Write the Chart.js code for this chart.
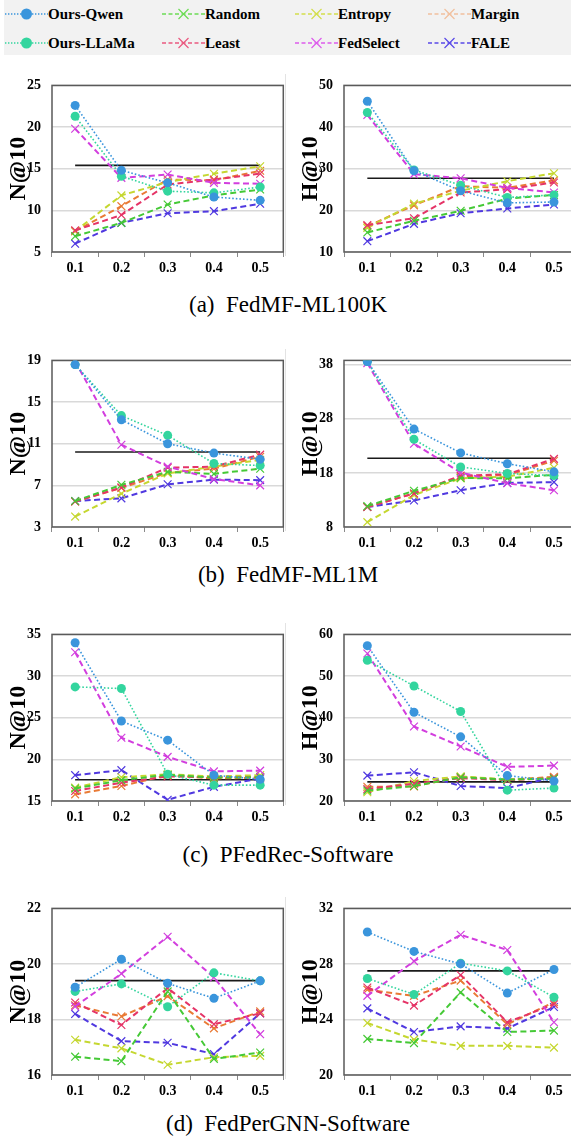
<!DOCTYPE html>
<html>
<head>
<meta charset="utf-8">
<script src="https://cdn.jsdelivr.net/npm/chart.js@4.4.1/dist/chart.umd.min.js"></script>
<style>
    html, body { margin: 0; padding: 0; background: #fff; }
    body { position: relative; width: 571px; height: 1144px; overflow: hidden; font-family: 'Liberation Serif', 'Times New Roman', serif; }
    #legend { position: absolute; left: 4px; top: 0; width: 567px; height: 55px; background: #f2f2f2; }
    .item { position: absolute; display: flex; align-items: center; height: 16px; font-weight: bold; font-size: 15px; color: #000; white-space: nowrap; }
    .item canvas { display: block; }
    .caption { position: absolute; left: 0; width: 576px; text-align: center; font-size: 23px; line-height: 24px; color: #000; white-space: pre; }
    .sep { position: absolute; left: 285px; width: 1px; background: #e3e3e3; }
</style>
</head>
<body>
<div id="legend"></div>
<script>
(function() {
    'use strict';

    // Data, one row per panel:
    // (a) N, (a) H, (b) N, (b) H, (c) N, (c) H, (d) N, (d) H
    const categories = ['0.1', '0.2', '0.3', '0.4', '0.5'];

    const oursQwen = [
        [22.6, 14.8, 13.3, 11.6, 11.2],
        [46.2, 29.5, 24.7, 21.8, 22.0],
        [18.6, 13.3, 11.0, 10.1, 9.5],
        [38.6, 26.1, 21.7, 19.7, 18.2],
        [34.0, 24.6, 22.3, 18.1, 17.6],
        [57.3, 41.3, 35.4, 26.1, 24.8],
        [19.16, 20.17, 19.3, 18.76, 19.39],
        [30.3, 28.9, 28.0, 25.9, 27.6]
    ];
    const oursLlama = [
        [21.3, 14.1, 12.3, 12.1, 12.8],
        [43.5, 29.7, 26.0, 23.1, 23.7],
        [18.6, 13.7, 11.8, 9.1, 8.9],
        [38.6, 24.2, 19.1, 17.9, 17.5],
        [28.7, 28.5, 18.2, 16.9, 16.9],
        [53.8, 47.6, 41.5, 22.6, 23.1],
        [19.01, 19.28, 18.46, 19.68, 19.39],
        [26.95, 25.8, 28.05, 27.5, 25.6]
    ];
    const random = [
        [6.9, 8.5, 10.7, 11.8, 12.5],
        [14.7, 17.5, 19.9, 22.8, 23.7],
        [5.5, 7.05, 8.3, 8.1, 8.6],
        [11.85, 14.7, 17.05, 17.0, 17.65],
        [16.5, 17.5, 18.15, 17.8, 17.85],
        [22.5, 23.6, 25.7, 25.15, 25.4],
        [16.66, 16.5, 19.01, 16.58, 16.81],
        [22.6, 22.3, 25.95, 23.1, 23.2]
    ];
    const least = [
        [7.6, 9.45, 13.1, 13.7, 14.4],
        [16.45, 18.1, 24.3, 25.05, 26.7],
        [5.45, 6.8, 8.7, 8.8, 9.95],
        [11.7, 14.2, 17.5, 17.75, 20.6],
        [16.2, 17.2, 17.95, 17.85, 17.85],
        [22.85, 24.15, 25.5, 25.0, 25.5],
        [18.61, 17.8, 19.13, 17.83, 18.22],
        [26.3, 25.0, 27.2, 23.8, 25.1]
    ];
    const entropy = [
        [7.5, 11.8, 13.4, 14.4, 15.3],
        [15.8, 21.6, 24.7, 27.0, 28.9],
        [4.0, 6.2, 8.15, 8.8, 9.45],
        [8.9, 13.9, 17.0, 17.3, 18.95],
        [16.6, 17.85, 18.2, 17.95, 18.1],
        [22.1, 24.8, 25.9, 25.15, 25.5],
        [17.27, 16.96, 16.37, 16.64, 16.69],
        [23.75, 22.55, 22.1, 22.1, 21.97]
    ];
    const fedSelect = [
        [19.8, 13.9, 14.3, 13.3, 13.2],
        [42.9, 28.7, 27.7, 25.4, 24.3],
        [18.9, 10.9, 8.8, 7.6, 7.0],
        [38.3, 23.4, 18.05, 16.1, 14.8],
        [32.85, 22.6, 20.3, 18.55, 18.65],
        [55.4, 37.9, 33.1, 28.2, 28.5],
        [18.47, 19.65, 20.98, 19.51, 17.47],
        [25.7, 28.2, 30.1, 29.0, 23.8]
    ];
    const margin = [
        [7.5, 10.5, 13.7, 13.6, 14.75],
        [16.2, 21.2, 25.8, 25.4, 27.2],
        [5.45, 6.75, 8.2, 8.6, 9.75],
        [11.7, 14.2, 17.3, 17.6, 20.25],
        [15.8, 16.8, 18.1, 17.7, 17.8],
        [23.4, 23.5, 25.8, 25.1, 25.8],
        [18.51, 18.11, 18.84, 17.68, 18.29],
        [26.15, 25.7, 26.8, 23.65, 25.25]
    ];
    const fale = [
        [6.0, 8.5, 9.65, 9.9, 10.8],
        [12.6, 16.75, 19.3, 20.45, 21.4],
        [5.5, 5.75, 7.1, 7.55, 7.5],
        [11.7, 12.9, 14.8, 16.15, 16.3],
        [18.1, 18.7, 15.15, 16.7, 17.7],
        [26.1, 26.9, 23.6, 23.1, 25.7],
        [18.2, 17.22, 17.16, 16.75, 18.22],
        [24.8, 23.1, 23.5, 23.35, 24.9]
    ];
    // black reference line in each panel
    const refLine = [15.4, 27.7, 10.2, 20.7, 17.55, 24.6, 19.4, 27.5];

    const yTitles = ['N@10', 'H@10', 'N@10', 'H@10', 'N@10', 'H@10', 'N@10', 'H@10'];
    const yTicks = [
        [5, 10, 15, 20, 25],
        [10, 20, 30, 40, 50],
        [3, 7, 11, 15, 19],
        [8, 18, 28, 38],
        [15, 20, 25, 30, 35],
        [20, 30, 40, 50, 60],
        [16, 18, 20, 22],
        [20, 24, 28, 32]
    ];
    const yMax = [25, 50, 19, 38.8, 35, 60, 22, 32];
    const captions = ['(a)  FedMF-ML100K', '(b)  FedMF-ML1M', '(c)  PFedRec-Software', '(d)  FedPerGNN-Software'];

    // Styling
    const FONT = "'Liberation Serif', 'Times New Roman', serif";
    const SERIES = [
        { label: 'Ours-Qwen',  data: oursQwen,  color: '#3a95dc', legend: '#3a95dc', dotted: true },
        { label: 'Ours-LLaMa', data: oursLlama, color: '#33d59e', legend: '#33d59e', dotted: true },
        { label: 'FedSelect',  data: fedSelect, color: '#d23ede', legend: '#dd5cec' },
        { label: 'Random',     data: random,    color: '#45c936', legend: '#6cdc55' },
        { label: 'Least',      data: least,     color: '#e53467', legend: '#ea5a80' },
        { label: 'Entropy',    data: entropy,   color: '#c5d730', legend: '#d3de4c' },
        { label: 'Margin',     data: margin,    color: '#e97a35', legend: '#f1c09e' },
        { label: 'FALE',       data: fale,      color: '#5039e0', legend: '#5a4ae8' }
    ];
    const LEGEND_ORDER = [
        ['Ours-Qwen', 'Random', 'Entropy', 'Margin'],
        ['Ours-LLaMa', 'Least', 'FedSelect', 'FALE']
    ];
    const LEGEND_COLS = [5, 162, 295, 428];
    const LEGEND_ROWS = [14, 43];

    const ROW_TOP = [78, 353, 627, 901];
    const PLOT_H = 174;
    const PAD_TOP = 12;
    const X_AXIS_H = 34;
    const CAPTION_Y = [305, 575, 855, 1124];

    Chart.defaults.font.family = FONT;
    Chart.defaults.color = '#000';

    // Draws the box round the plot area, under the lines
    const framePlugin = {
        id: 'frame',
        beforeDatasetsDraw: function(chart) {
            const a = chart.chartArea;
            const ctx = chart.ctx;
            ctx.save();
            ctx.strokeStyle = '#5a5a5a';
            ctx.lineWidth = 1.5;
            ctx.strokeRect(a.left, a.top, a.right - a.left, a.bottom - a.top);
            ctx.restore();
        }
    };

    function datasetsFor(panel) {
        const sets = SERIES.map(s => ({
            label: s.label,
            data: s.data[panel],
            borderColor: s.color,
            backgroundColor: s.color,
            borderWidth: s.dotted ? 1.6 : 2,
            borderDash: s.dotted ? [1.6, 2] : [6, 3.5],
            pointStyle: s.dotted ? 'circle' : 'crossRot',
            pointRadius: s.dotted ? 4.5 : 5.5,
            pointBorderWidth: s.dotted ? 0 : 1.2,
            pointBackgroundColor: s.color,
            pointBorderColor: s.color,
            tension: 0
        }));
        sets.push({
            label: 'ref',
            data: categories.map(() => refLine[panel]),
            borderColor: '#1a1a1a',
            borderWidth: 1.6,
            pointRadius: 0
        });
        return sets;
    }

    function initPanel(panel) {
        const row = Math.floor(panel / 2);
        const col = panel % 2;
        const left = col === 0 ? 0 : 292;
        const width = col === 0 ? 290 : 292;
        const height = PAD_TOP + PLOT_H + X_AXIS_H;

        const canvas = document.createElement('canvas');
        canvas.width = width;
        canvas.height = height;
        canvas.style.cssText = 'position:absolute;left:' + left + 'px;top:' + (ROW_TOP[row] - PAD_TOP) +
            'px;width:' + width + 'px;height:' + height + 'px;';
        document.body.appendChild(canvas);

        const ticks = yTicks[panel];

        new Chart(canvas.getContext('2d'), {
            type: 'line',
            data: { labels: categories, datasets: datasetsFor(panel) },
            options: {
                responsive: false,
                animation: false,
                devicePixelRatio: 1,
                layout: { padding: { top: PAD_TOP, right: col === 0 ? 5 : 6, bottom: 0, left: 0 } },
                plugins: { legend: { display: false }, tooltip: { enabled: false } },
                scales: {
                    x: {
                        type: 'category',
                        offset: true,
                        grid: {
                            offset: true,
                            drawOnChartArea: false,
                            drawTicks: true,
                            tickLength: 5,
                            color: '#8a8a8a',
                            lineWidth: 1
                        },
                        border: { display: false },
                        ticks: {
                            padding: 3,
                            maxRotation: 0,
                            font: { size: 14, weight: 'bold' },
                            color: '#000'
                        },
                        afterFit: function(scale) { scale.height = X_AXIS_H; }
                    },
                    y: {
                        min: ticks[0],
                        max: yMax[panel],
                        grid: { color: '#d9d9d9', lineWidth: 1.5, drawTicks: false },
                        border: { display: false },
                        ticks: {
                            padding: 11,
                            font: { size: 14, weight: 'bold' },
                            color: '#000'
                        },
                        afterBuildTicks: function(scale) {
                            scale.ticks = ticks.map(v => ({ value: v }));
                        },
                        title: {
                            display: true,
                            text: yTitles[panel],
                            font: { size: 24, weight: 'bold' },
                            color: '#000',
                            padding: { top: 4, bottom: 0 }
                        },
                        afterFit: function(scale) { scale.width = 52; }
                    }
                }
            },
            plugins: [framePlugin]
        });
    }

    function initLegend() {
        const box = document.getElementById('legend');
        LEGEND_ORDER.forEach((names, r) => {
            names.forEach((name, c) => {
                const s = SERIES.find(x => x.label === name);
                const item = document.createElement('div');
                item.className = 'item';
                item.style.left = (LEGEND_COLS[c] - 4) + 'px';
                item.style.top = (LEGEND_ROWS[r] - 8) + 'px';

                const cv = document.createElement('canvas');
                cv.width = 43;
                cv.height = 16;
                const ctx = cv.getContext('2d');
                ctx.strokeStyle = s.legend;
                ctx.fillStyle = s.legend;
                ctx.lineWidth = s.dotted ? 1.4 : 1.6;
                ctx.setLineDash(s.dotted ? [1.4, 1.6] : [4, 2.5]);
                ctx.beginPath();
                ctx.moveTo(0, 8);
                ctx.lineTo(43, 8);
                ctx.stroke();
                ctx.setLineDash([]);
                if (s.dotted) {
                    ctx.beginPath();
                    ctx.arc(21.5, 8, 5.5, 0, Math.PI * 2);
                    ctx.fill();
                } else {
                    ctx.lineWidth = 1.2;
                    ctx.beginPath();
                    ctx.moveTo(16.5, 3); ctx.lineTo(26.5, 13);
                    ctx.moveTo(26.5, 3); ctx.lineTo(16.5, 13);
                    ctx.stroke();
                }
                item.appendChild(cv);

                const text = document.createElement('span');
                text.textContent = name;
                item.appendChild(text);
                box.appendChild(item);
            });
        });
    }

    function initCaptions() {
        captions.forEach((txt, r) => {
            const d = document.createElement('div');
            d.className = 'caption';
            d.style.top = (CAPTION_Y[r] - 12) + 'px';
            d.textContent = txt;
            document.body.appendChild(d);

            const sep = document.createElement('div');
            sep.className = 'sep';
            sep.style.top = (ROW_TOP[r] - 4) + 'px';
            sep.style.height = (PLOT_H + 8) + 'px';
            document.body.appendChild(sep);
        });
    }

    initLegend();
    for (let p = 0; p < 8; p++) {
        initPanel(p);
    }
    initCaptions();
})();
</script>
</body>
</html>
